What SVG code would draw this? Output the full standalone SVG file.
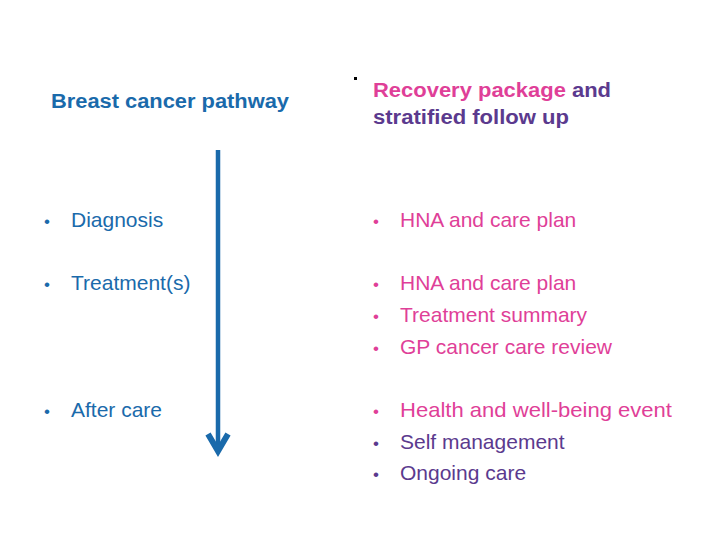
<svg xmlns="http://www.w3.org/2000/svg" width="720" height="540" viewBox="0 0 720 540">
<style>
text{font-family:"Liberation Sans",Arial,sans-serif;font-size:21px}
.b{fill:#1a6aab}.p{fill:#df3f98}.u{fill:#5b3a8e}
.h{font-weight:bold;font-size:20px}
.d{font-size:17px}
</style>
<rect width="720" height="540" fill="#fff"/>
<g id="left-title"><text class="b h" x="51" y="108" textLength="238" lengthAdjust="spacingAndGlyphs">Breast cancer pathway</text></g>
<g id="right-title"><rect x="354" y="77" width="3" height="3" fill="#000"/><text class="h" x="373" y="97" textLength="238" lengthAdjust="spacingAndGlyphs"><tspan class="p">Recovery package</tspan><tspan class="u"> and</tspan></text><text class="u h" x="373" y="124" textLength="196" lengthAdjust="spacingAndGlyphs">stratified follow up</text></g>
<g id="connectors"><line x1="218" y1="150" x2="218" y2="452" stroke="#1a6aab" stroke-width="4.5"/><polyline points="208,434 218,451 228,434" fill="none" stroke="#1a6aab" stroke-width="6"/></g>
<g id="left-items">
<text class="b d" x="44" y="227">•</text><text class="b" x="71" y="227">Diagnosis</text>
<text class="b d" x="44" y="290">•</text><text class="b" x="71" y="290">Treatment(s)</text>
<text class="b d" x="44" y="417">•</text><text class="b" x="71" y="417">After care</text>
</g>
<g id="right-items">
<text class="p d" x="373" y="227">•</text><text class="p" x="400" y="227">HNA and care plan</text>
<text class="p d" x="373" y="290">•</text><text class="p" x="400" y="290">HNA and care plan</text>
<text class="p d" x="373" y="322">•</text><text class="p" x="400" y="322">Treatment summary</text>
<text class="p d" x="373" y="354">•</text><text class="p" x="400" y="354">GP cancer care review</text>
<text class="p d" x="373" y="417">•</text><text class="p" x="400" y="417" textLength="272" lengthAdjust="spacingAndGlyphs">Health and well-being event</text>
<text class="u d" x="373" y="449">•</text><text class="u" x="400" y="449">Self management</text>
<text class="u d" x="373" y="480">•</text><text class="u" x="400" y="480">Ongoing care</text>
</g>
</svg>
